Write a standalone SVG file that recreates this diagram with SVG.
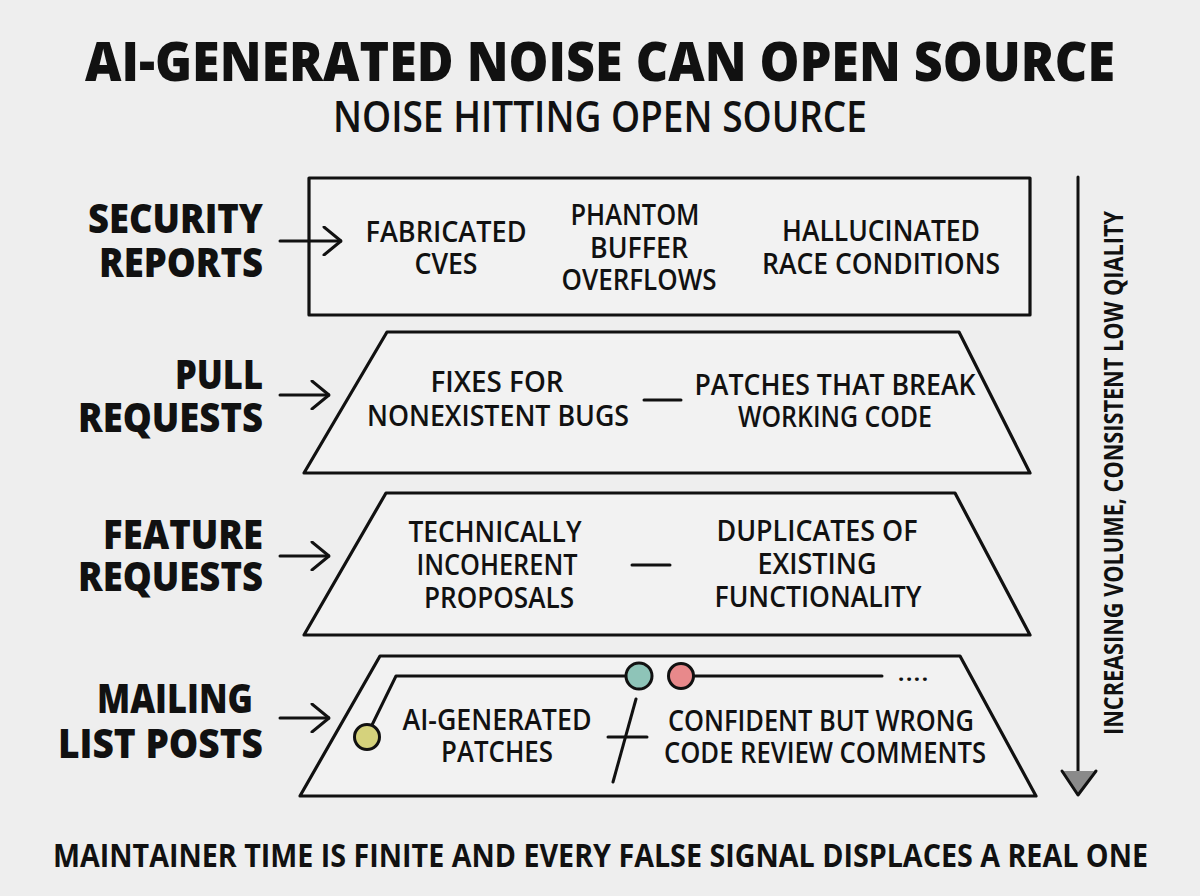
<svg xmlns="http://www.w3.org/2000/svg" width="1200" height="896" viewBox="0 0 1200 896">
<defs>
<style>
text{font-family:"Open Sans","DejaVu Sans",sans-serif;fill:#111}
.title{font-size:54px;font-weight:800}
.sub{font-size:44px;font-weight:600}
.lbl{font-size:40px;font-weight:800;text-anchor:end}
.t{font-size:29px;font-weight:600;text-anchor:middle}
.foot{font-size:32px;font-weight:700}
.side{font-size:27px;font-weight:700;text-anchor:middle}
.shape{fill:#f2f2f2;stroke:#111;stroke-width:3.2;stroke-linejoin:round}
.ln{fill:none;stroke:#111;stroke-width:3;stroke-linecap:round;stroke-linejoin:round}
</style>
<marker id="chev" viewBox="0 0 20 30" refX="19" refY="15" markerWidth="20" markerHeight="30" markerUnits="userSpaceOnUse" orient="auto">
<path d="M2 1 L19 15 L2 29" fill="none" stroke="#111" stroke-width="3" stroke-linecap="round" stroke-linejoin="round"/>
</marker>
</defs>
<rect width="1200" height="896" fill="#eeeeee"/>

<g id="title">
<text class="title" x="85" y="81" textLength="1030" lengthAdjust="spacingAndGlyphs">AI-GENERATED NOISE CAN OPEN SOURCE</text>
<text class="sub" x="333" y="132" textLength="534" lengthAdjust="spacingAndGlyphs">NOISE HITTING OPEN SOURCE</text>
</g>

<g id="labels">
<text class="lbl" x="263" y="233" textLength="175" lengthAdjust="spacingAndGlyphs">SECURITY</text>
<text class="lbl" x="263" y="277" textLength="164" lengthAdjust="spacingAndGlyphs">REPORTS</text>
<text class="lbl" x="263" y="389" textLength="88" lengthAdjust="spacingAndGlyphs">PULL</text>
<text class="lbl" x="263" y="432" textLength="185" lengthAdjust="spacingAndGlyphs">REQUESTS</text>
<text class="lbl" x="263" y="549" textLength="160" lengthAdjust="spacingAndGlyphs">FEATURE</text>
<text class="lbl" x="263" y="591" textLength="185" lengthAdjust="spacingAndGlyphs">REQUESTS</text>
<text class="lbl" x="253" y="713" textLength="156" lengthAdjust="spacingAndGlyphs">MAILING</text>
<text class="lbl" x="263" y="758" textLength="205" lengthAdjust="spacingAndGlyphs">LIST POSTS</text>
</g>

<g id="security-reports">
<path class="shape" d="M309 178 L1030 178 L1030 315 L309 315 Z"/>
<text class="t" x="446" y="242" textLength="161" lengthAdjust="spacingAndGlyphs">FABRICATED</text>
<text class="t" x="446" y="274" textLength="63" lengthAdjust="spacingAndGlyphs">CVES</text>
<text class="t" x="635" y="225" textLength="129" lengthAdjust="spacingAndGlyphs">PHANTOM</text>
<text class="t" x="639" y="258" textLength="98" lengthAdjust="spacingAndGlyphs">BUFFER</text>
<text class="t" x="639" y="290" textLength="155" lengthAdjust="spacingAndGlyphs">OVERFLOWS</text>
<text class="t" x="881" y="241" textLength="198" lengthAdjust="spacingAndGlyphs">HALLUCINATED</text>
<text class="t" x="881" y="274" textLength="238" lengthAdjust="spacingAndGlyphs">RACE CONDITIONS</text>
</g>

<g id="pull-requests">
<path class="shape" d="M387 332 L959 332 L1030 473 L304 473 Z"/>
<text class="t" x="497" y="392" textLength="133" lengthAdjust="spacingAndGlyphs">FIXES FOR</text>
<text class="t" x="498" y="426" textLength="262" lengthAdjust="spacingAndGlyphs">NONEXISTENT BUGS</text>
<line class="ln" x1="644" y1="400" x2="681" y2="400"/>
<text class="t" x="835" y="395" textLength="281" lengthAdjust="spacingAndGlyphs">PATCHES THAT BREAK</text>
<text class="t" x="835" y="427" textLength="194" lengthAdjust="spacingAndGlyphs">WORKING CODE</text>
</g>

<g id="feature-requests">
<path class="shape" d="M386 493 L955 493 L1030 635 L304 635 Z"/>
<text class="t" x="495" y="542" textLength="173" lengthAdjust="spacingAndGlyphs">TECHNICALLY</text>
<text class="t" x="497" y="575" textLength="161" lengthAdjust="spacingAndGlyphs">INCOHERENT</text>
<text class="t" x="499" y="608" textLength="150" lengthAdjust="spacingAndGlyphs">PROPOSALS</text>
<line class="ln" x1="632" y1="565" x2="670" y2="565"/>
<text class="t" x="817" y="541" textLength="201" lengthAdjust="spacingAndGlyphs">DUPLICATES OF</text>
<text class="t" x="817" y="574" textLength="119" lengthAdjust="spacingAndGlyphs">EXISTING</text>
<text class="t" x="818" y="607" textLength="207" lengthAdjust="spacingAndGlyphs">FUNCTIONALITY</text>
</g>

<g id="mailing-list-posts">
<path class="shape" d="M380 656 L960 656 L1036 796 L300 796 Z"/>
<path class="ln" d="M372 725 L396 676 L626 676"/>
<line class="ln" x1="693" y1="676" x2="882" y2="676"/>
<text x="913" y="681" text-anchor="middle" font-size="22" font-weight="700" textLength="30" lengthAdjust="spacing">....</text>
<circle cx="367" cy="737" r="12.5" fill="#d5d27c" stroke="#111" stroke-width="3"/>
<circle cx="639" cy="676" r="13" fill="#8ec4b8" stroke="#111" stroke-width="3"/>
<circle cx="681" cy="676" r="12.5" fill="#e8898b" stroke="#111" stroke-width="3"/>
<text class="t" x="497" y="730" textLength="189" lengthAdjust="spacingAndGlyphs">AI-GENERATED</text>
<text class="t" x="497" y="762" textLength="112" lengthAdjust="spacingAndGlyphs">PATCHES</text>
<line class="ln" x1="636" y1="699" x2="613" y2="782"/>
<line class="ln" x1="608" y1="737" x2="647" y2="737"/>
<text class="t" x="821" y="731" textLength="306" lengthAdjust="spacingAndGlyphs">CONFIDENT BUT WRONG</text>
<text class="t" x="825" y="763" textLength="322" lengthAdjust="spacingAndGlyphs">CODE REVIEW COMMENTS</text>
</g>

<g id="connectors">
<line class="ln" x1="280" y1="241" x2="341" y2="241" marker-end="url(#chev)"/>
<line class="ln" x1="280" y1="395" x2="329" y2="395" marker-end="url(#chev)"/>
<line class="ln" x1="280" y1="556" x2="329" y2="556" marker-end="url(#chev)"/>
<line class="ln" x1="280" y1="718" x2="329" y2="718" marker-end="url(#chev)"/>
</g>

<g id="trend-arrow">
<line class="ln" x1="1078" y1="177" x2="1078" y2="794"/>
<path d="M1063 771 L1094 771 L1078 794 Z" fill="#8a8a8a"/>
<path class="ln" d="M1062 771 L1078 795 L1096 771"/>
<text class="side" transform="translate(1123 473) rotate(-90)" textLength="524" lengthAdjust="spacingAndGlyphs">INCREASING VOLUME, CONSISTENT LOW QIALITY</text>
</g>

<g id="footer">
<text class="foot" x="53" y="867" textLength="1095" lengthAdjust="spacingAndGlyphs">MAINTAINER TIME IS FINITE AND EVERY FALSE SIGNAL DISPLACES A REAL ONE</text>
</g>
</svg>
